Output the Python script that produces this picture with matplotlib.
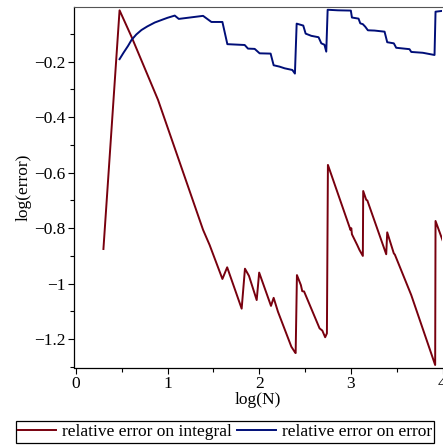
import numpy as np
import matplotlib
matplotlib.use("Agg")
import matplotlib.pyplot as plt

# log(N) / log(error)
x_integral = [0.301, 0.477, 0.607, 0.897, 1.388, 1.46, 1.599, 1.651, 1.809, 1.845,
              1.889, 1.973, 2.0, 2.129, 2.158, 2.205, 2.351, 2.394, 2.398, 2.412,
              2.455, 2.47, 2.49, 2.659, 2.689, 2.72, 2.739, 2.75, 2.997, 3.005,
              3.012, 3.07, 3.095, 3.131, 3.135, 3.168, 3.18, 3.386, 3.397, 3.469,
              3.48, 3.659, 3.92, 3.924, 4.0]
y_integral = [-0.875, -0.015, -0.110, -0.338, -0.806, -0.861, -0.983, -0.941, -1.090, -0.946,
              -0.972, -1.059, -0.960, -1.080, -1.051, -1.101, -1.227, -1.249, -1.250, -0.969,
              -1.005, -1.027, -1.028, -1.161, -1.169, -1.193, -1.179, -0.572, -0.807, -0.800,
              -0.822, -0.861, -0.879, -0.900, -0.666, -0.698, -0.700, -0.894, -0.815, -0.891,
              -0.895, -1.041, -1.293, -0.774, -0.843]

x_error = [0.477, 0.52, 0.57, 0.607, 0.66, 0.716, 0.78, 0.861, 0.95, 1.0,
           1.079, 1.123, 1.388, 1.479, 1.599, 1.653, 1.842, 1.878, 1.951, 2.005,
           2.125, 2.158, 2.223, 2.278, 2.362, 2.39, 2.409, 2.481, 2.507, 2.569,
           2.648, 2.678, 2.712, 2.732, 2.747, 2.859, 3.0, 3.012, 3.084, 3.103,
           3.131, 3.157, 3.186, 3.259, 3.368, 3.397, 3.469, 3.495, 3.64, 3.659,
           3.785, 3.913, 3.924, 4.0]
y_error = [-0.191, -0.168, -0.143, -0.122, -0.102, -0.086, -0.073, -0.059, -0.048, -0.042,
           -0.034, -0.046, -0.035, -0.057, -0.057, -0.137, -0.140, -0.153, -0.154, -0.170,
           -0.171, -0.213, -0.218, -0.224, -0.230, -0.243, -0.063, -0.070, -0.099, -0.107,
           -0.112, -0.134, -0.139, -0.164, -0.013, -0.015, -0.016, -0.041, -0.045, -0.062,
           -0.065, -0.074, -0.087, -0.088, -0.092, -0.130, -0.134, -0.150, -0.155, -0.165,
           -0.168, -0.176, -0.020, -0.017]

y_ticks = [-1.2, -1.0, -0.8, -0.6, -0.4, -0.2]
y_ticklabels = ["\u22121.2", "\u22121", "\u22120.8", "\u22120.6", "\u22120.4", "\u22120.2"]
x_ticks = [0, 1, 2, 3, 4]

plt.rcParams['font.family'] = ['Liberation Serif', 'DejaVu Serif']
plt.rcParams['font.size'] = 12.5

fig = plt.figure(figsize=(4.43, 4.48), dpi=100)
ax = fig.add_axes([74 / 443, 1 - 367.5 / 448, 368.5 / 443, 360.8 / 448])

ax.plot(x_integral, y_integral, color='#78000E', lw=1.4, label='relative error on integral')
ax.plot(x_error, y_error, color='#000E78', lw=1.4, label='relative error on error')

ax.set_xlim(-0.02, 4.0)
ax.set_ylim(-1.302, -0.002)
ax.set_xticks(x_ticks)
ax.set_xticks([0.5, 1.5, 2.5, 3.5], minor=True)
ax.set_yticks(y_ticks)
ax.set_yticklabels(y_ticklabels)
ax.set_yticks([-1.3, -1.1, -0.9, -0.7, -0.5, -0.3, -0.1], minor=True)
ax.tick_params(which='major', direction='out', length=4, width=0.8, pad=2)
ax.tick_params(which='minor', direction='out', length=3, width=0.8)

ax.spines['right'].set_visible(False)
ax.spines['top'].set_color('#555555')
for s in ['left', 'bottom']:
    ax.spines[s].set_linewidth(0.9)

ax.set_xlabel('log(N)', labelpad=0)
ax.set_ylabel('log(error)', labelpad=2)

leg = fig.legend(loc='center', bbox_to_anchor=(225 / 443, 1 - 432 / 448), ncol=2,
                 frameon=True, fancybox=False, edgecolor='black', framealpha=1,
                 handlelength=2.2, handletextpad=0.35, columnspacing=0.3,
                 borderpad=0.15, borderaxespad=0)
leg.get_frame().set_linewidth(0.9)

fig.savefig('out.png', dpi=100)
